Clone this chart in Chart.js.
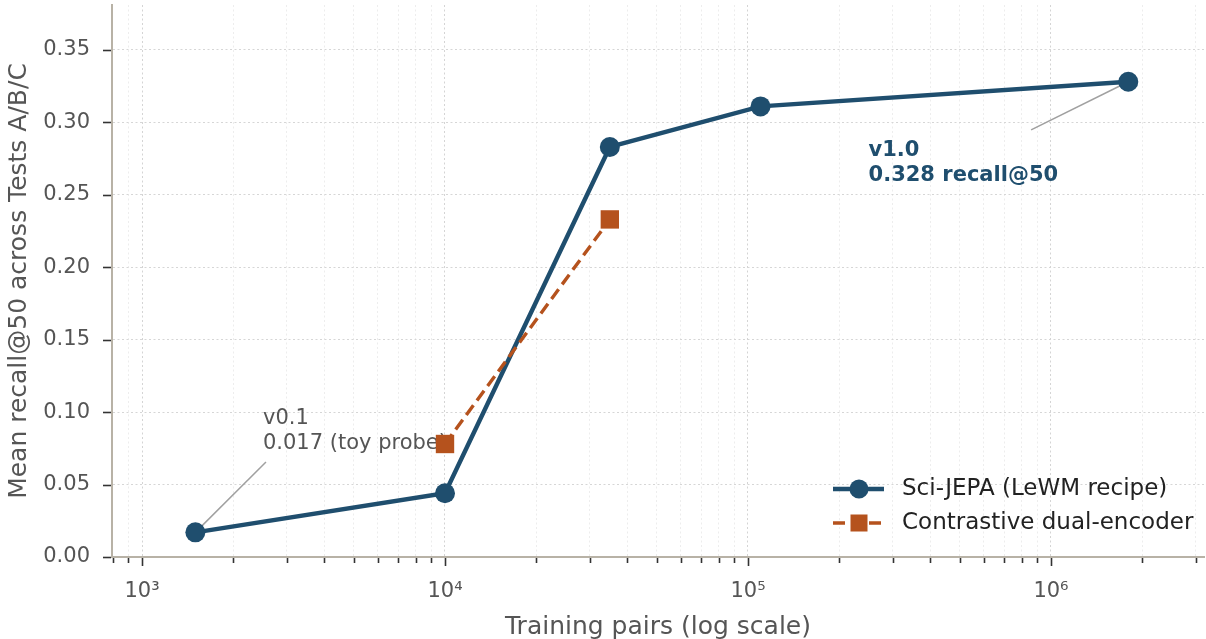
<!DOCTYPE html>
<html>
<head>
<meta charset="utf-8">
<script src="https://cdn.jsdelivr.net/npm/chart.js@4"></script>
<style>
  html, body { margin: 0; padding: 0; background: #fff; }
  #wrap { width: 1206px; height: 639px; }
</style>
</head>
<body>
<div id="wrap"><canvas id="chart"></canvas></div>
<script>
(() => {
  'use strict'
  // data
  const jepaPairs = [1500, 10000, 35000, 110000, 1800000];
  const jepaRecall = [0.017, 0.044, 0.283, 0.311, 0.328];
  const contrastPairs = [10000, 35000];
  const contrastRecall = [0.078, 0.233];

  const xMajorValues = [1e3, 1e4, 1e5, 1e6];
  const xMajorLabels = ['10³', '10⁴', '10⁵', '10⁶'];
  const yTickValues = [0, 0.05, 0.10, 0.15, 0.20, 0.25, 0.30, 0.35];

  const seriesNames = ['Sci-JEPA (LeWM recipe)', 'Contrastive dual-encoder'];

  const BLUE = '#1f4e6e';
  const ORANGE = '#b5521d';
  const FONT = "'DejaVu Sans', sans-serif";

  // annotations in data coordinates (text anchor, leader start, leader end)
  const notes = [
    { lines: ['v0.1', '0.017 (toy probe)'], at: [2507, 0.0955], from: [2565, 0.0656], to: [1500, 0.017],
      color: '#555555', weight: 'normal', size: 21 },
    { lines: ['v1.0', '0.328 recall@50'], at: [250000, 0.2805], from: [860000, 0.2948], to: [1800000, 0.328],
      color: BLUE, weight: 'bold', size: 21 }
  ];

  const isMajor = v => xMajorValues.some(m => Math.abs(m - v) / m < 1e-6);

  const toPts = (xs, ys) => xs.map((v, i) => ({ x: v, y: ys[i] }));

  const zeroPad = scale => {
    scale.paddingTop = 0;
    scale.paddingBottom = 0;
    scale.paddingLeft = 0;
    scale.paddingRight = 0;
  };

  const decor = {
    id: 'decor',
    beforeDatasetsDraw(chart) {
      const { ctx, scales: { x, y } } = chart;
      notes.forEach(n => {
        ctx.save();
        ctx.strokeStyle = '#a0a0a0';
        ctx.lineWidth = 1.5;
        ctx.beginPath();
        ctx.moveTo(x.getPixelForValue(n.from[0]), y.getPixelForValue(n.from[1]));
        ctx.lineTo(x.getPixelForValue(n.to[0]), y.getPixelForValue(n.to[1]));
        ctx.stroke();
        ctx.font = n.weight + ' ' + n.size + 'px ' + FONT;
        ctx.fillStyle = n.color;
        ctx.textBaseline = 'middle';
        ctx.textAlign = 'left';
        const tx = x.getPixelForValue(n.at[0]);
        const ty = y.getPixelForValue(n.at[1]);
        n.lines.forEach((t, i) => ctx.fillText(t, tx, ty + i * 24.5));
        ctx.restore();
      });
    },
    afterDraw(chart) {
      const { ctx, scales: { x, y }, chartArea } = chart;
      ctx.save();
      ctx.strokeStyle = '#333';
      ctx.lineWidth = 1.6;
      // x tick marks
      x.ticks.forEach(t => {
        const px = Math.round(x.getPixelForValue(t.value)) + 0.5;
        const len = isMajor(t.value) ? 8 : 5;
        ctx.beginPath();
        ctx.moveTo(px, chartArea.bottom + 1);
        ctx.lineTo(px, chartArea.bottom + 1 + len);
        ctx.stroke();
      });
      // y tick marks
      y.ticks.forEach(t => {
        const py = Math.round(y.getPixelForValue(t.value)) + 0.5;
        ctx.beginPath();
        ctx.moveTo(chartArea.left - 1, py);
        ctx.lineTo(chartArea.left - 9, py);
        ctx.stroke();
      });
      ctx.restore();

      // legend, bottom right inside the axes
      const lx0 = chartArea.right - 371;
      const rows = [chartArea.bottom - 68, chartArea.bottom - 34];
      chart.data.datasets.forEach((ds, i) => {
        const ry = rows[i];
        ctx.save();
        ctx.strokeStyle = ds.borderColor;
        ctx.lineWidth = ds.borderWidth;
        ctx.setLineDash(ds.borderDash || []);
        ctx.beginPath();
        ctx.moveTo(lx0, ry);
        ctx.lineTo(lx0 + 51, ry);
        ctx.stroke();
        ctx.setLineDash([]);
        ctx.fillStyle = ds.borderColor;
        const cx = lx0 + 26;
        if (ds.pointStyle === 'rect') {
          ctx.fillRect(cx - 8.5, ry - 8.5, 17, 17);
        } else {
          ctx.beginPath();
          ctx.arc(cx, ry, 9.5, 0, Math.PI * 2);
          ctx.fill();
        }
        ctx.font = '23px ' + FONT;
        ctx.fillStyle = '#222';
        ctx.textBaseline = 'middle';
        ctx.fillText(ds.label, lx0 + 69, ry);
        ctx.restore();
      });
    }
  };

  new Chart(document.getElementById('chart'), {
    type: 'line',
    data: {
      datasets: [{
        label: seriesNames[0],
        data: toPts(jepaPairs, jepaRecall),
        borderColor: BLUE,
        backgroundColor: BLUE,
        borderWidth: 4.4,
        pointRadius: 10,
        pointHoverRadius: 10,
        pointBorderWidth: 0,
        pointBackgroundColor: BLUE,
        tension: 0,
        clip: false,
        order: 1
      }, {
        label: seriesNames[1],
        data: toPts(contrastPairs, contrastRecall),
        borderColor: ORANGE,
        backgroundColor: ORANGE,
        borderWidth: 3.4,
        borderDash: [12, 6],
        pointStyle: 'rect',
        pointRadius: 13,
        pointHoverRadius: 13,
        pointBorderWidth: 0,
        pointBackgroundColor: ORANGE,
        tension: 0,
        clip: false,
        order: 0
      }]
    },
    options: {
      responsive: true,
      maintainAspectRatio: false,
      animation: false,
      layout: { autoPadding: false, padding: { top: 5, right: 2, left: 0, bottom: 0 } },
      plugins: {
        legend: { display: false },
        tooltip: { enabled: false }
      },
      scales: {
        x: {
          type: 'logarithmic',
          min: 796,
          max: 3.2e6,
          afterBuildTicks: scale => {
            const vals = [];
            for (let e = 2; e <= 6; e++) {
              for (let m = 1; m <= 9; m++) {
                const v = m * Math.pow(10, e);
                if (v >= scale.min && v <= scale.max) vals.push(v);
              }
            }
            scale.ticks = vals.map(v => ({ value: v }));
          },
          afterFit: scale => { scale.height = 82; zeroPad(scale); },
          ticks: {
            autoSkip: false,
            maxRotation: 0,
            padding: 22,
            color: '#555',
            font: { size: 21, family: FONT },
            callback: v => {
              const k = xMajorValues.findIndex(m => Math.abs(m - v) / m < 1e-6);
              return k >= 0 ? xMajorLabels[k] : '';
            }
          },
          grid: {
            drawTicks: false,
            lineWidth: 1,
            color: c => (c.tick && isMajor(c.tick.value)) ? '#d4d4d4' : '#ededed'
          },
          border: { display: true, color: '#b8b2a6', width: 2, dash: [2, 2.5] },
          title: {
            display: true,
            text: 'Training pairs (log scale)',
            color: '#555',
            font: { size: 25, family: FONT },
            padding: { top: 0, bottom: -3 }
          }
        },
        y: {
          min: 0,
          max: 0.381,
          afterBuildTicks: scale => { scale.ticks = yTickValues.map(v => ({ value: v })); },
          afterFit: scale => { scale.width = 112; zeroPad(scale); },
          ticks: {
            padding: 22,
            color: '#555',
            font: { size: 21, family: FONT },
            callback: v => Number(v).toFixed(2)
          },
          grid: { drawTicks: false, lineWidth: 1, color: '#d6d6d6' },
          border: { display: true, color: '#b8b2a6', width: 2, dash: [2, 2.5] },
          title: {
            display: true,
            text: 'Mean recall@50 across Tests A/B/C',
            color: '#555',
            font: { size: 25, family: FONT },
            padding: { top: 4, bottom: 0 }
          }
        }
      }
    },
    plugins: [decor]
  });
})();
</script>
</body>
</html>
